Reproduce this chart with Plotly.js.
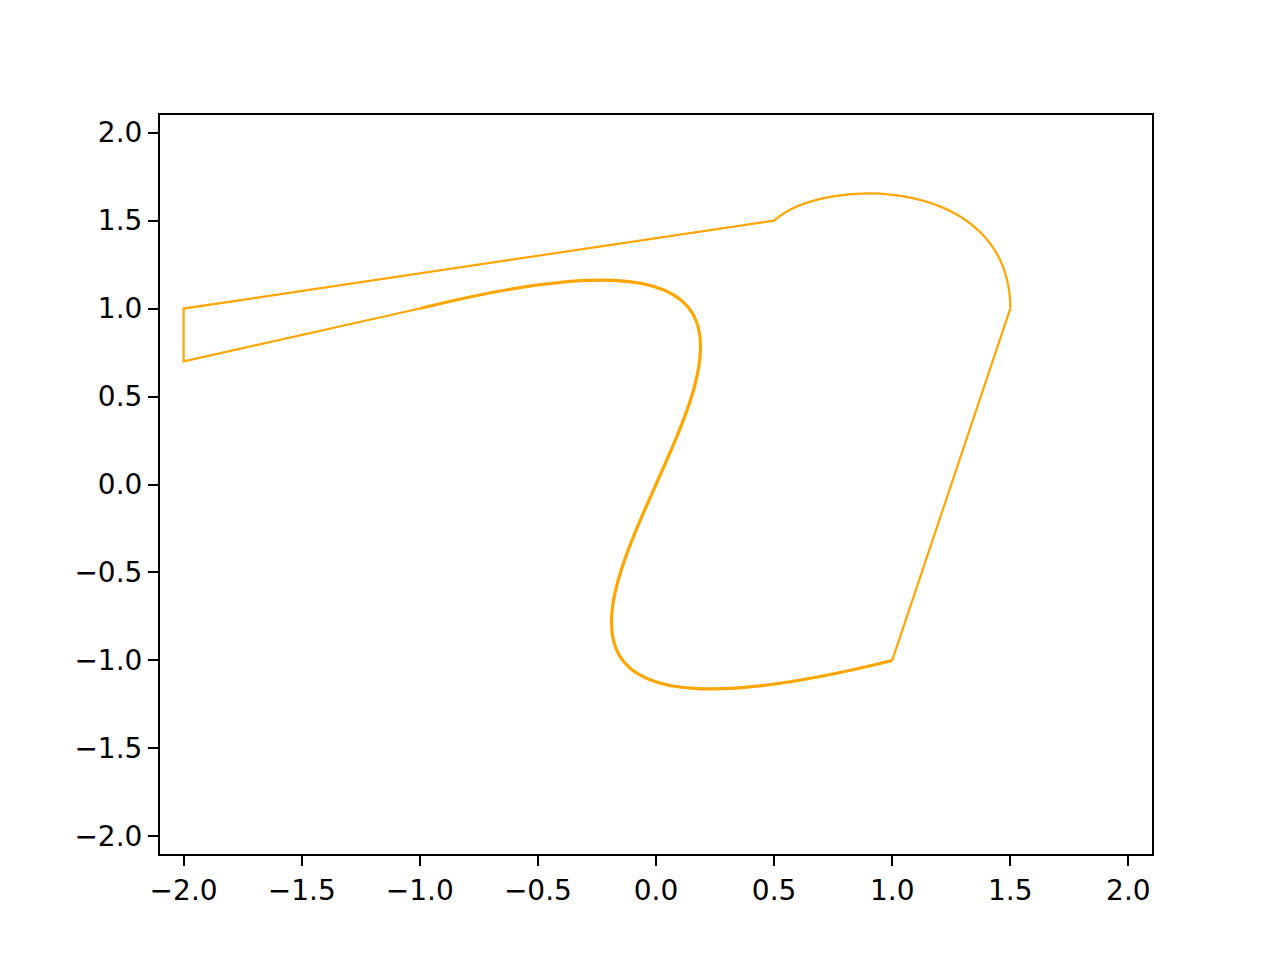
<!DOCTYPE html>
<html>
<head>
<meta charset="utf-8">
<script src="https://cdn.plot.ly/plotly-3.0.1.min.js"></script>
<style>html,body{margin:0;padding:0;background:#fff;} #chart{width:1280px;height:960px;}</style>
</head>
<body>
<div id="chart"></div>
<script>
// Cubic Bezier from (-1,1) to (1,-1): start, control 1, control 2, end
const curveX = [-1, 2, -2, 1];
const curveY = [1, 2, -2, -1];
// Straight edge from the curve end up to the arc start
const edgeAX = [1, 1.5];
const edgeAY = [-1, 1];
// Cubic Bezier arc from (1.5,1) to (0.5,1.5)
const arcX = [1.5, 1.5, 0.72, 0.5];
const arcY = [1, 1.75, 1.76, 1.5];
// Straight edges back to the curve start
const edgeBX = [0.5, -2, -2, -1];
const edgeBY = [1.5, 1, 0.7, 1];

const tickVals = [-2.0, -1.5, -1.0, -0.5, 0.0, 0.5, 1.0, 1.5, 2.0];
const tickText = ['\u22122.0', '\u22121.5', '\u22121.0', '\u22120.5', '0.0', '0.5', '1.0', '1.5', '2.0'];

const orange = '#FFA500';

function cubicPath(xs, ys) {
  return 'M ' + xs[0] + ',' + ys[0] + ' C ' +
    xs[1] + ',' + ys[1] + ' ' + xs[2] + ',' + ys[2] + ' ' + xs[3] + ',' + ys[3];
}

const data = [
  {x: edgeAX, y: edgeAY, type: 'scatter', mode: 'lines', line: {color: orange, width: 2.2}, hoverinfo: 'skip', showlegend: false},
  {x: edgeBX, y: edgeBY, type: 'scatter', mode: 'lines', line: {color: orange, width: 2.2}, hoverinfo: 'skip', showlegend: false}
];

const axisCommon = {
  range: [-2.1, 2.1],
  tickvals: tickVals,
  ticktext: tickText,
  ticks: 'outside',
  ticklen: 10,
  tickwidth: 2,
  tickcolor: '#000',
  showline: true,
  linewidth: 2,
  linecolor: '#000',
  mirror: true,
  showgrid: false,
  zeroline: false,
  tickfont: {family: 'DejaVu Sans', size: 28, color: '#000'}
};

const layout = {
  width: 1280,
  height: 960,
  margin: {l: 160, r: 128, t: 115, b: 106},
  paper_bgcolor: '#fff',
  plot_bgcolor: '#fff',
  showlegend: false,
  xaxis: Object.assign({}, axisCommon),
  yaxis: Object.assign({}, axisCommon),
  shapes: [
    {type: 'path', xref: 'x', yref: 'y', path: cubicPath(curveX, curveY), line: {color: orange, width: 3.2}, layer: 'above'},
    {type: 'path', xref: 'x', yref: 'y', path: cubicPath(arcX, arcY), line: {color: orange, width: 2.2}, layer: 'above'}
  ]
};

Plotly.newPlot('chart', data, layout, {staticPlot: true, displayModeBar: false});
</script>
</body>
</html>
